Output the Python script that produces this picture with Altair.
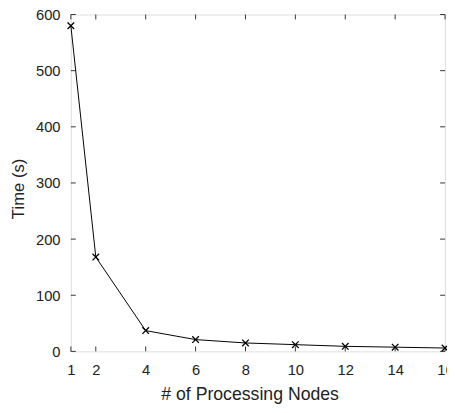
import altair as alt
import pandas as pd

nodes = [1, 2, 4, 6, 8, 10, 12, 14, 16]
times = [580, 168, 37, 21, 15, 12, 9, 7.5, 6]
x_ticks = [1, 2, 4, 6, 8, 10, 12, 14, 16]
y_ticks = [0, 100, 200, 300, 400, 500, 600]

W, H = 381, 343
FONT = "Liberation Sans"

df = pd.DataFrame({"nodes": nodes, "time": times})
xt = pd.DataFrame({"v": x_ticks})
yt = pd.DataFrame({"v": y_ticks})

xscale = alt.Scale(domain=[1, 16], nice=False, zero=False)
yscale = alt.Scale(domain=[0, 600], nice=False)

xaxis = alt.Axis(values=x_ticks, title="# of Processing Nodes", grid=False, domain=False,
                 ticks=False, tickSize=0, labelPadding=12, labelFontSize=15, labelFont=FONT,
                 labelColor="#222", titleFontSize=18, titleFont=FONT, titleFontWeight="normal",
                 titleColor="#222", titleX=182, titleY=49, titleBaseline="alphabetic",
                 titleAlign="center", labelFlush=False, labelOverlap=False)
yaxis = alt.Axis(values=y_ticks, title="Time (s)", grid=False, domain=False, ticks=False,
                 tickSize=0, labelPadding=11, labelFontSize=15, labelFont=FONT, labelColor="#222",
                 titleFontSize=17, titleFont=FONT, titleFontWeight="normal", titleColor="#222",
                 titleX=-53, titleY=177, titleAngle=270, titleBaseline="middle",
                 titleAlign="center", format="d", labelFlush=False)

base = alt.Chart(df)
line = base.mark_line(color="black", strokeWidth=1).encode(
    x=alt.X("nodes:Q", scale=xscale, axis=xaxis),
    y=alt.Y("time:Q", scale=yscale, axis=yaxis),
)
pts = base.mark_point(shape="M-1,-1L1,1M-1,1L1,-1", size=45, filled=False, color="black",
                      strokeWidth=1.3, opacity=1, clip=False).encode(
    x=alt.X("nodes:Q", scale=xscale),
    y=alt.Y("time:Q", scale=yscale),
)

tick_style = dict(color="#333", strokeWidth=1)
bot = alt.Chart(xt).mark_rule(**tick_style).encode(
    x=alt.X("v:Q", scale=xscale), y=alt.value(H), y2=alt.value(H - 5))
top = alt.Chart(xt).mark_rule(**tick_style).encode(
    x=alt.X("v:Q", scale=xscale), y=alt.value(0), y2=alt.value(5))
left = alt.Chart(yt).mark_rule(**tick_style).encode(
    y=alt.Y("v:Q", scale=yscale), x=alt.value(0), x2=alt.value(5))
right = alt.Chart(yt).mark_rule(**tick_style).encode(
    y=alt.Y("v:Q", scale=yscale), x=alt.value(W), x2=alt.value(W - 5))

chart = alt.layer(bot, top, left, right, line, pts).properties(
    width=W, height=H,
    padding={"left": 64, "top": 3, "right": 2, "bottom": 54},
    autosize=alt.AutoSizeParams(type="none"),
).configure_view(stroke="#333", strokeWidth=1).configure(background="white")

chart.save("out.html", embed_options={"renderer": "svg", "actions": False})
